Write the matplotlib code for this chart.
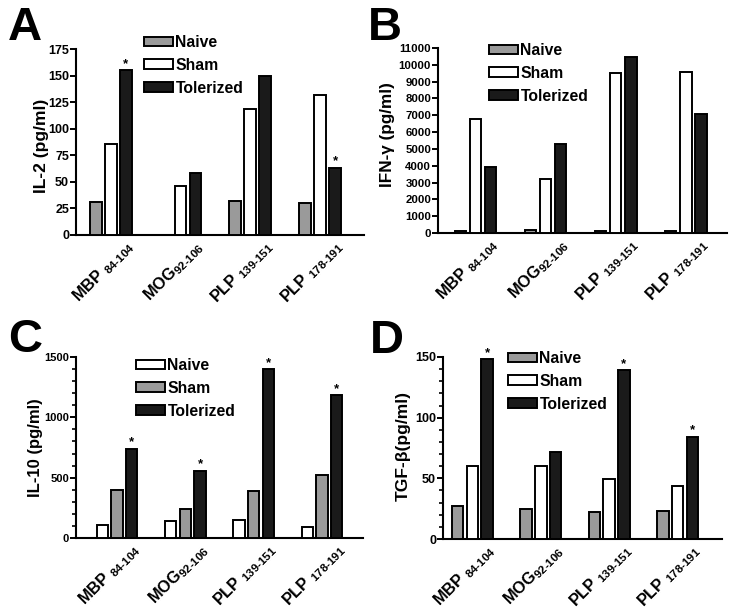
import numpy as np
import matplotlib
matplotlib.use('Agg')
import matplotlib.pyplot as plt
import matplotlib.transforms as mtransforms
from matplotlib.ticker import MultipleLocator

plt.rcParams['font.family'] = ['Liberation Sans', 'DejaVu Sans']
plt.rcParams['font.weight'] = 'bold'
plt.rcParams['mathtext.fontset'] = 'custom'
plt.rcParams['mathtext.rm'] = 'Liberation Sans:bold'
plt.rcParams['mathtext.bf'] = 'Liberation Sans:bold'
plt.rcParams['mathtext.it'] = 'Liberation Sans:bold'

# etiquetas de los grupos
grupos = [r'MBP $_{\text{84-104}}$', r'MOG$_{\text{92-106}}$',
          r'PLP $_{\text{139-151}}$', r'PLP $_{\text{178-191}}$']
series = ['Naive', 'Sham', 'Tolerized']

# IL-2 (pg/ml)
il2_naive = [31, np.nan, 32, 30.5]
il2_sham = [86, 46.5, 119, 132]
il2_tol = [155, 58, 150, 63]
il2_star = [True, False, False, True]

# IFN-gamma (pg/ml)
ifn_naive = [100, 150, 100, 120]
ifn_sham = [6800, 3230, 9500, 9550]
ifn_tol = [3900, 5270, 10450, 7100]
ifn_star = [False, False, False, False]

# IL-10 (pg/ml)
il10_naive = [110, 143, 146, 91]
il10_sham = [396, 242, 391, 523]
il10_tol = [738, 559, 1398, 1181]
il10_star = [True, True, True, True]

# TGF-beta (pg/ml)
tgf_naive = [27.4, 24.9, 21.9, 23.3]
tgf_sham = [60, 60, 49.3, 43.8]
tgf_tol = [148, 72, 139, 84]
tgf_star = [True, False, True, True]

GRIS = '#9a9a9a'
NEGRO = '#1a1a1a'
BLANCO = 'white'

fig = plt.figure(figsize=(7.38, 6.14), dpi=100)

def px_axes(l, t, r, b):
    W, H = 738.0, 614.0
    return fig.add_axes([l / W, 1 - b / H, (r - l) / W, (b - t) / H])

def panel(ax, datos, colores, estrellas, ylim, mayor, menor, ylabel, xlim, leg_xy,
          ytick_fs, ylab_fs, ylab_xy):
    x = np.arange(len(grupos))
    paso = 0.215
    ancho = 0.168
    for i, (vals, col, nom) in enumerate(zip(datos, colores, series)):
        ax.bar(x + (i - 1) * paso, vals, ancho, color=col, edgecolor='black',
               linewidth=1.4, label=nom, zorder=3)
    tol = np.array(datos[2], dtype=float)
    for xi, v, s in zip(x, tol, estrellas):
        if s:
            ax.text(xi + paso, v + ylim * 0.003, '*', ha='center', va='bottom',
                    fontsize=9.5, fontweight='bold')
    ax.set_ylim(0, ylim)
    ax.set_xlim(*xlim)
    ax.yaxis.set_major_locator(MultipleLocator(mayor))
    if menor:
        ax.yaxis.set_minor_locator(MultipleLocator(menor))
    ax.spines['top'].set_visible(False)
    ax.spines['right'].set_visible(False)
    ax.spines['left'].set_linewidth(1.5)
    ax.spines['bottom'].set_linewidth(1.5)
    ax.tick_params(axis='y', which='major', length=4, width=1.4, labelsize=ytick_fs, pad=1)
    ax.tick_params(axis='y', which='minor', length=3, width=1.2)
    ax.set_xticks([])
    # etiquetas giradas del eje x
    base = mtransforms.blended_transform_factory(ax.transData, ax.transAxes)
    desplaz = mtransforms.ScaledTranslation(20 / 100, -9 / 100, fig.dpi_scale_trans)
    for xi, g in zip(x, grupos):
        ax.text(xi, 0, g, transform=base + desplaz, rotation=45, ha='right', va='center',
                rotation_mode='anchor', fontsize=11.8, fontweight='bold', clip_on=False)
    ax.set_ylabel(ylabel, fontsize=ylab_fs, fontweight='bold')
    ax.yaxis.set_label_coords(*ylab_xy)
    for lab in ax.get_yticklabels():
        lab.set_fontweight('bold')
    ax.legend(loc='upper left', bbox_to_anchor=leg_xy, bbox_transform=fig.transFigure,
              frameon=False, fontsize=11.3, handlelength=1.85, handleheight=0.57,
              handletextpad=0.15, labelspacing=0.5, borderpad=0, borderaxespad=0)

axA = px_axes(76, 49, 364, 235)
panel(axA, [il2_naive, il2_sham, il2_tol], [GRIS, BLANCO, NEGRO], il2_star,
      175, 25, None, 'IL-2 (pg/ml)', (-0.5, 3.63), (144 / 738, 1 - 35 / 614),
      9, 12.5, (-0.095, 0.48))

axB = px_axes(438, 48, 727, 233)
panel(axB, [ifn_naive, ifn_sham, ifn_tol], [GRIS, BLANCO, NEGRO], ifn_star,
      11000, 1000, None, 'IFN-γ (pg/ml)', (-0.535, 3.59), (489 / 738, 1 - 43 / 614),
      8.2, 12.3, (-0.15, 0.53))

axC = px_axes(76, 357, 363, 538)
panel(axC, [il10_naive, il10_sham, il10_tol], [BLANCO, GRIS, NEGRO], il10_star,
      1500, 500, 100, 'IL-10 (pg/ml)', (-0.6, 3.6), (136 / 738, 1 - 358 / 614),
      8, 12, (-0.115, 0.5))

axD = px_axes(443, 357, 722, 539)
panel(axD, [tgf_naive, tgf_sham, tgf_tol], [GRIS, BLANCO, NEGRO], tgf_star,
      150, 50, 10, 'TGF-β(pg/ml)', (-0.43, 3.65), (508 / 738, 1 - 351 / 614),
      9, 12.5, (-0.115, 0.51))

# letras de los paneles
for letra, xp, yp in [('A', 8, 40), ('B', 368, 40), ('C', 8, 352), ('D', 370, 353)]:
    fig.text(xp / 738, 1 - yp / 614, letra, fontsize=34, fontweight='bold', va='baseline')

plt.savefig('out.png', dpi=100)
